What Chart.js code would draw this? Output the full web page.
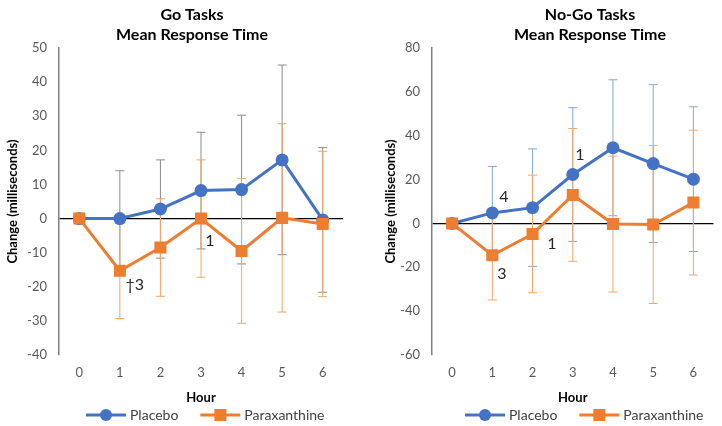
<!DOCTYPE html>
<html>
<head>
<meta charset="utf-8">
<script src="https://cdn.jsdelivr.net/npm/chart.js@4/dist/chart.umd.min.js"></script>
<style>
  html, body { margin: 0; padding: 0; background: #fff; }
  .panel { position: absolute; top: 0; width: 361px; height: 426px; }
</style>
</head>
<body>
<div class="panel" style="left:0"><canvas id="goChart" width="361" height="426"></canvas></div>
<div class="panel" style="left:361px"><canvas id="noGoChart" width="361" height="426"></canvas></div>
<script>
// hours after ingestion
const hours = ['0', '1', '2', '3', '4', '5', '6'];

// Go tasks: change in mean response time (ms) and SD
const goPlacebo = [0, 0, 2.8, 8.2, 8.5, 17.2, -0.4];
const goPlaceboSD = [0, 14, 14.4, 17.1, 21.8, 27.8, 21.2];
const goParaxanthine = [0, -15.3, -8.5, 0, -9.5, 0.2, -1.6];
const goParaxanthineSD = [0, 14, 14.3, 17.2, 21.2, 27.6, 21.3];

// No-Go tasks
const noGoPlacebo = [0, 4.8, 7.2, 22.3, 34.5, 27.3, 20.2];
const noGoPlaceboSD = [0, 21.2, 26.8, 30.5, 31, 36, 33];
const noGoParaxanthine = [0, -14.5, -4.8, 13, -0.3, -0.5, 9.5];
const noGoParaxanthineSD = [0, 20.4, 26.8, 30.3, 31, 36, 33];

// significance notes: text, hour position, value position
const goNoteText = ['1', '\u20203'];
const goNoteHour = [3.22, 1.37];
const goNoteValue = [-6.4, -19.4];
const noGoNoteText = ['4', '1', '1', '3'];
const noGoNoteHour = [1.29, 3.18, 2.48, 1.24];
const noGoNoteValue = [12.3, 31.5, -9.1, -22.8];

const BLUE = '#4472C4';
const ORANGE = '#ED7D31';
const FONT = 'Lato, "Open Sans", sans-serif';

Chart.defaults.font.family = FONT;
Chart.defaults.color = '#595959';

// SD whiskers behind the lines
const errorBars = {
  id: 'errorBars',
  beforeDatasetsDraw(chart) {
    const { ctx, scales: { x, y } } = chart;
    chart.data.datasets.forEach(ds => {
      ctx.save();
      ctx.strokeStyle = ds.errorColor;
      ctx.lineWidth = 1;
      ds.data.forEach((v, i) => {
        const e = ds.errors[i];
        if (!e) return;
        const px = x.getPixelForValue(i);
        const top = y.getPixelForValue(v + e);
        const bot = y.getPixelForValue(v - e);
        ctx.beginPath();
        ctx.moveTo(px, top); ctx.lineTo(px, bot);
        ctx.moveTo(px - 4.5, top); ctx.lineTo(px + 4.5, top);
        ctx.moveTo(px - 4.5, bot); ctx.lineTo(px + 4.5, bot);
        ctx.stroke();
      });
      ctx.restore();
    });
  }
};

// two-line title, notes and Excel-style legend
const decorations = {
  id: 'decorations',
  afterDraw(chart, args, opts) {
    const { ctx, scales: { x, y } } = chart;
    ctx.save();
    ctx.textBaseline = 'middle';

    ctx.fillStyle = '#000';
    ctx.textAlign = 'center';
    ctx.font = 'bold 16px ' + FONT;
    opts.title.forEach((t, i) => ctx.fillText(t, opts.titleX, 15 + i * 20));

    ctx.font = '16px ' + FONT;
    ctx.fillStyle = '#262626';
    opts.notes.forEach((t, i) => {
      ctx.fillText(t, x.getPixelForValue(opts.noteHour[i]), y.getPixelForValue(opts.noteValue[i]));
    });

    ctx.font = '14px ' + FONT;
    ctx.textAlign = 'left';
    let lx = opts.legendX;
    const ly = 415;
    chart.data.datasets.forEach(ds => {
      ctx.strokeStyle = ds.borderColor;
      ctx.lineWidth = 3;
      ctx.beginPath();
      ctx.moveTo(lx, ly); ctx.lineTo(lx + 40, ly);
      ctx.stroke();
      ctx.fillStyle = ds.borderColor;
      if (ds.pointStyle === 'rect') {
        ctx.fillRect(lx + 14, ly - 6, 12, 12);
      } else {
        ctx.beginPath();
        ctx.arc(lx + 20, ly, 6, 0, Math.PI * 2);
        ctx.fill();
      }
      ctx.fillStyle = '#404040';
      ctx.fillText(ds.label, lx + 44, ly);
      lx += 44 + ctx.measureText(ds.label).width + 22;
    });
    ctx.restore();
  }
};

function makeChart(id, cfg) {
  return new Chart(document.getElementById(id), {
    type: 'line',
    data: {
      labels: hours,
      datasets: [
        {
          label: 'Placebo',
          data: cfg.placebo,
          errors: cfg.placeboSD,
          errorColor: cfg.placeboErrColor,
          borderColor: BLUE,
          backgroundColor: BLUE,
          borderWidth: 3,
          pointStyle: 'circle',
          pointRadius: 6.5,
          pointBorderWidth: 0,
          order: 2
        },
        {
          label: 'Paraxanthine',
          data: cfg.parax,
          errors: cfg.paraxSD,
          errorColor: '#F2A66B',
          borderColor: ORANGE,
          backgroundColor: ORANGE,
          borderWidth: 3,
          pointStyle: 'rect',
          pointRadius: 8.5,
          pointBorderWidth: 0,
          order: 1
        }
      ]
    },
    options: {
      responsive: false,
      animation: false,
      devicePixelRatio: 1,
      layout: { padding: { left: 0, top: 48, right: cfg.padRight, bottom: 20 } },
      plugins: {
        legend: { display: false },
        tooltip: { enabled: false },
        decorations: {
          title: cfg.title,
          titleX: cfg.titleX,
          notes: cfg.notes,
          noteHour: cfg.noteHour,
          noteValue: cfg.noteValue,
          legendX: cfg.legendX
        }
      },
      scales: {
        x: {
          offset: true,
          grid: { display: false, drawTicks: false },
          border: { display: false },
          ticks: { padding: 10, font: { size: 13 } },
          title: { display: true, text: 'Hour', color: '#000', font: { size: 13, weight: 'bold' }, padding: 0 },
          afterFit(scale) { scale.height = 51; }
        },
        y: {
          min: cfg.min,
          max: cfg.max,
          ticks: { stepSize: cfg.step, padding: 12, font: { size: 13 } },
          grid: {
            drawTicks: false,
            color: c => (c.tick && c.tick.value === 0 ? '#000' : 'rgba(0,0,0,0)'),
            lineWidth: 1.2
          },
          border: { display: true, color: '#808080', width: 1.5 },
          title: {
            display: true,
            text: 'Change (milliseconds)',
            color: '#000',
            font: { size: 13, weight: 'bold' },
            padding: { top: cfg.yTitlePad, bottom: 0 }
          },
          afterFit(scale) { scale.width = cfg.yWidth; }
        }
      }
    },
    plugins: [errorBars, decorations]
  });
}

makeChart('goChart', {
  placebo: goPlacebo, placeboSD: goPlaceboSD, placeboErrColor: '#8C8C8C',
  parax: goParaxanthine, paraxSD: goParaxanthineSD,
  min: -40, max: 50, step: 10,
  yWidth: 59, padRight: 18, yTitlePad: 5,
  title: ['Go Tasks', 'Mean Response Time'], titleX: 192,
  notes: goNoteText, noteHour: goNoteHour, noteValue: goNoteValue,
  legendX: 86
});

makeChart('noGoChart', {
  placebo: noGoPlacebo, placeboSD: noGoPlaceboSD, placeboErrColor: '#84A9D0',
  parax: noGoParaxanthine, paraxSD: noGoParaxanthineSD,
  min: -60, max: 80, step: 20,
  yWidth: 71, padRight: 8, yTitlePad: 22,
  title: ['No-Go Tasks', 'Mean Response Time'], titleX: 229,
  notes: noGoNoteText, noteHour: noGoNoteHour, noteValue: noGoNoteValue,
  legendX: 104
});
</script>
</body>
</html>
